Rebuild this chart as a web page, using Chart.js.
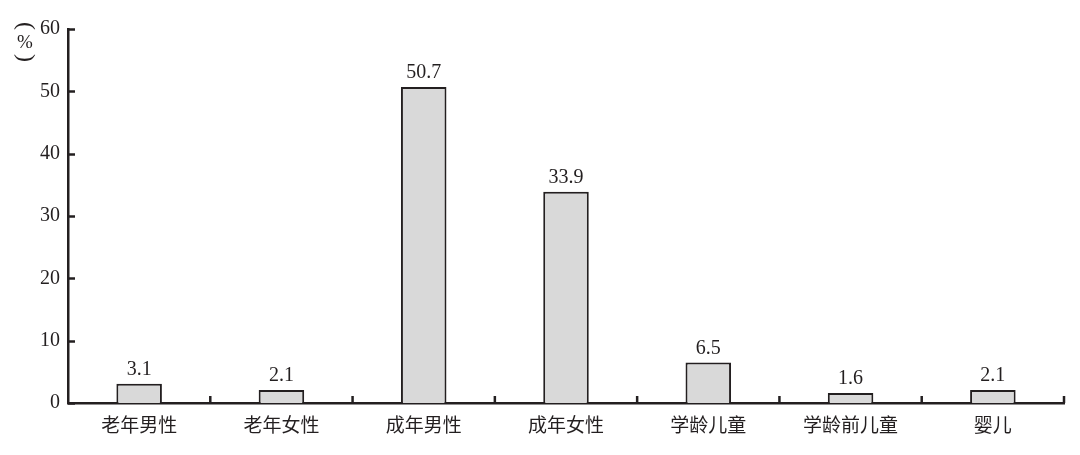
<!DOCTYPE html>
<html>
<head>
<meta charset="utf-8">
<script src="https://cdn.jsdelivr.net/npm/chart.js@4"></script>
<style>
  html, body { margin: 0; padding: 0; background: #fff; }
  #wrap { width: 1080px; height: 455px; }
</style>
</head>
<body>
<div id="wrap"><canvas id="groupChart"></canvas></div>
<script>
const categories = ["老年男性", "老年女性", "成年男性", "成年女性", "学龄儿童", "学龄前儿童", "婴儿"];
const shares = [3.1, 2.1, 50.7, 33.9, 6.5, 1.6, 2.1];
const yTicks = [0, 10, 20, 30, 40, 50, 60];

const ink = "#231f20";
const serif = "'Liberation Serif', 'Noto Sans CJK SC', serif";

// inward tick marks, bar value labels and the vertical (%) unit
const extras = {
  id: "extras",
  afterDatasetsDraw(chart) {
    const { ctx, chartArea, scales } = chart;
    const x = scales.x;
    const y = scales.y;

    ctx.save();
    ctx.strokeStyle = ink;
    ctx.lineWidth = 2.5;

    yTicks.forEach(v => {
      const py = Math.round(y.getPixelForValue(v)) + 0.5;
      ctx.beginPath();
      ctx.moveTo(chartArea.left, py);
      ctx.lineTo(chartArea.left + 7, py);
      ctx.stroke();
    });

    const step = x.getPixelForValue(1) - x.getPixelForValue(0);
    for (let i = 0; i < categories.length; i++) {
      const px = x.getPixelForValue(i) + step / 2;
      ctx.beginPath();
      ctx.moveTo(px, chartArea.bottom);
      ctx.lineTo(px, chartArea.bottom - 7);
      ctx.stroke();
    }

    ctx.fillStyle = ink;
    ctx.font = "20px " + serif;
    ctx.textAlign = "center";
    ctx.textBaseline = "bottom";
    chart.getDatasetMeta(0).data.forEach((bar, i) => {
      ctx.fillText(shares[i].toFixed(1), bar.x, bar.y - 4);
    });

    ctx.textBaseline = "middle";
    ctx.font = "24px " + serif;
    [["(", 26], [")", 58]].forEach(([ch, py]) => {
      ctx.save();
      ctx.translate(25, py);
      ctx.rotate(Math.PI / 2);
      ctx.fillText(ch, 0, 0);
      ctx.restore();
    });
    ctx.font = "19px " + serif;
    ctx.fillText("%", 25, 43);
    ctx.restore();
  }
};

new Chart(document.getElementById("groupChart"), {
  type: "bar",
  data: {
    labels: categories,
    datasets: [{
      data: shares,
      backgroundColor: "#d9d9d9",
      borderColor: ink,
      borderWidth: 2,
      borderSkipped: "bottom",
      categoryPercentage: 1,
      barPercentage: 0.32
    }]
  },
  plugins: [extras],
  options: {
    responsive: true,
    maintainAspectRatio: false,
    animation: false,
    layout: {
      padding: { top: 29, right: 16, bottom: 0, left: 0 }
    },
    plugins: {
      legend: { display: false },
      tooltip: { enabled: false }
    },
    scales: {
      x: {
        offset: true,
        grid: { display: false, drawTicks: false },
        border: { display: true, color: ink, width: 2.5 },
        ticks: {
          color: ink,
          padding: 13,
          font: { size: 19, family: serif }
        },
        afterFit: s => { s.height = 52; }
      },
      y: {
        min: 0,
        max: 60,
        grid: { display: false, drawTicks: false },
        border: { display: true, color: ink, width: 2.5 },
        afterBuildTicks: s => { s.ticks = yTicks.map(v => ({ value: v })); },
        ticks: {
          color: ink,
          padding: 8,
          font: { size: 20, family: serif }
        },
        afterFit: s => { s.width = 68; }
      }
    }
  }
});
</script>
</body>
</html>
